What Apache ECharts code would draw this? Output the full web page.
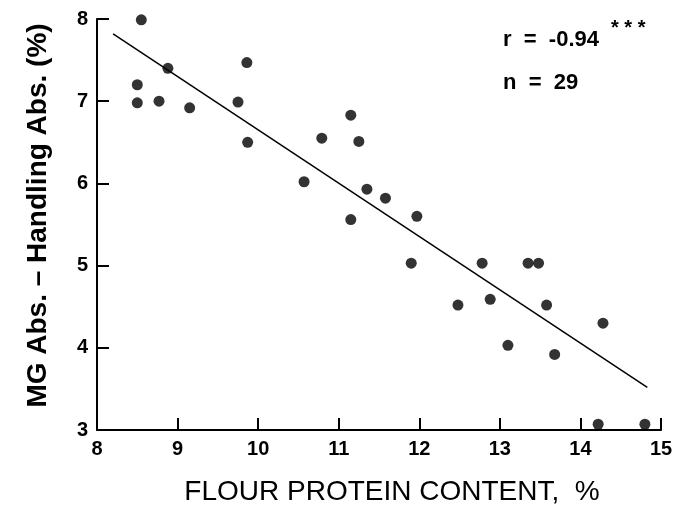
<!DOCTYPE html>
<html>
<head>
<meta charset="utf-8">
<script src="https://cdn.jsdelivr.net/npm/echarts@6/dist/echarts.min.js"></script>
<style>
  html, body { margin: 0; padding: 0; background: #fff; }
  #chart { width: 674px; height: 508px; }
</style>
</head>
<body>
<div id="chart"></div>
<script>
// flour protein (%) and MG abs. - handling abs. (%)
const protein = [8.5, 8.5, 8.55, 8.77, 8.88, 9.15, 9.75, 9.86, 9.87, 10.57, 10.79,
  11.15, 11.25, 11.35, 11.58, 11.15, 11.97,
  11.9, 12.48, 12.78, 12.88, 13.35, 13.48, 13.58, 13.1, 13.68, 14.28, 14.22, 14.8];
const absDiff = [6.98, 7.2, 7.99, 7.0, 7.4, 6.92, 6.99, 7.47, 6.5, 6.02, 6.55,
  6.83, 6.51, 5.93, 5.82, 5.56, 5.6,
  5.03, 4.52, 5.03, 4.59, 5.03, 5.03, 4.52, 4.03, 3.92, 4.3, 3.07, 3.07];
// fitted regression line end points
const fitX = [8.2, 14.83];
const fitY = [7.82, 3.52];
const xTicks = [8, 9, 10, 11, 12, 13, 14, 15];
const yTicks = [3, 4, 5, 6, 7, 8];
const statR = 'r  =  -0.94';
const statStars = '* * *';
const statN = 'n  =  29';

const chart = echarts.init(document.getElementById('chart'));

const font = '"Liberation Sans", Arial, sans-serif';
const tick = { show: true, inside: true, length: 12, lineStyle: { color: '#000', width: 2 } };
const xMin = xTicks[0], xMax = xTicks[xTicks.length - 1];
const yMin = yTicks[0], yMax = yTicks[yTicks.length - 1];

// thin strips along the axes whose split lines act as the inward ticks
const stripLine = { show: true, lineStyle: { color: '#000', width: 2 } };
const bare = {
  axisLine: { show: false }, axisTick: { show: false }, axisLabel: { show: false }
};

const statStyle = { color: '#000', fontSize: 22, fontWeight: 'bold', fontFamily: font };

chart.setOption({
  animation: false,
  title: [
    { text: statR, left: 503, top: 29, padding: 0, textStyle: statStyle },
    { text: statStars, left: 611, top: 18, padding: 0,
      textStyle: { color: '#000', fontSize: 20, fontWeight: 'bold', fontFamily: font } },
    { text: statN, left: 503, top: 72, padding: 0, textStyle: statStyle }
  ],
  grid: [
    { left: 97, right: 13, top: 19, bottom: 78, outerBoundsMode: 'none' },
    { left: 97, width: 12, top: 19, bottom: 78, outerBoundsMode: 'none' },
    { left: 97, right: 13, bottom: 78, height: 12, outerBoundsMode: 'none' }
  ],
  xAxis: [{
    type: 'value',
    min: xMin,
    max: xMax,
    interval: 1,
    name: 'FLOUR PROTEIN CONTENT,  %',
    nameLocation: 'middle',
    nameGap: 48,
    nameTextStyle: { color: '#000', fontSize: 28, fontFamily: font, padding: [0, 0, 0, 26] },
    axisLine: { show: true, lineStyle: { color: '#000', width: 2 } },
    axisTick: tick,
    axisLabel: { color: '#000', fontSize: 20, fontWeight: 'bold', fontFamily: font, margin: 9 },
    splitLine: { show: false }
  },
  { type: 'value', gridIndex: 1, min: 0, max: 1, show: false },
  Object.assign({ type: 'value', gridIndex: 2, min: xMin, max: xMax, interval: 1,
    splitLine: stripLine }, bare)
  ],
  yAxis: [{
    type: 'value',
    min: yMin,
    max: yMax,
    interval: 1,
    name: 'MG Abs. \u2013 Handling Abs. (%)',
    nameLocation: 'middle',
    nameGap: 45,
    nameTextStyle: { color: '#000', fontSize: 28, fontWeight: 'bold', fontFamily: font, padding: [0, 0, 0, 18] },
    axisLine: { show: true, lineStyle: { color: '#000', width: 2 } },
    axisTick: tick,
    axisLabel: { color: '#000', fontSize: 20, fontWeight: 'bold', fontFamily: font, margin: 9 },
    splitLine: { show: false }
  },
  Object.assign({ type: 'value', gridIndex: 1, min: yMin, max: yMax, interval: 1,
    splitLine: stripLine }, bare),
  { type: 'value', gridIndex: 2, min: 0, max: 1, show: false }
  ],
  series: [
    {
      type: 'line',
      data: fitX.map((x, i) => [x, fitY[i]]),
      symbol: 'none',
      lineStyle: { color: '#000', width: 1.5 },
      silent: true
    },
    {
      type: 'scatter',
      data: protein.map((x, i) => [x, absDiff[i]]),
      symbolSize: 11,
      itemStyle: { color: '#000' }
    }
  ]
});
</script>
</body>
</html>
